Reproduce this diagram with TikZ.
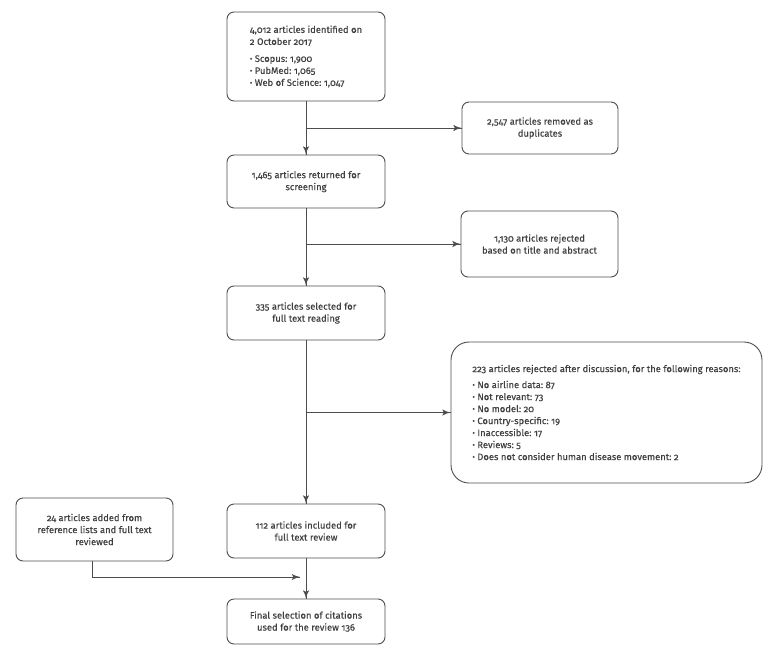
\documentclass[tikz,border=0pt]{standalone}
\usepackage{fontspec}
\setmainfont{Fira Sans}[Numbers=OldStyle, UprightFeatures={FakeBold=0.25}]
\usepackage{tikz}
\usetikzlibrary{arrows}
\usetikzlibrary{decorations.markings}
\usetikzlibrary{positioning}
\frenchspacing
\definecolor{linegray}{HTML}{4D4D4D}
\definecolor{textgray}{HTML}{404040}
\newcommand{\bul}{\raisebox{0.6pt}{\fontsize{7.5}{7.5}\selectfont\textbullet}\ }
\tikzset{box/.style = {draw=linegray, line width=0.9pt, rounded corners=7pt,
                       text=textgray, align=center, inner sep=0pt,
                       font=\fontsize{9.4}{12}\selectfont}}
\tikzset{listbox/.style = {box, align=left}}
\tikzset{flow/.style = {draw=linegray, line width=0.9pt,
                        decoration={markings,
                                    mark=at position 1 with {\arrow[scale=1.5]{latex'}}},
                        postaction={decorate}}}

\begin{document}
\begin{tikzpicture}[x=1pt, y=-1pt]
    \useasboundingbox (0, 0) rectangle (774, 656);
    % main column
    \node [listbox, minimum width=158pt, minimum height=89pt] (ident) at (306, 56.5)
        {4,012 articles identified on\\ 2 October 2017\\[5pt]
         \bul Scopus: 1,900\\ \bul PubMed: 1,065\\ \bul Web of Science: 1,047};
    \node [box, minimum width=158pt, minimum height=53pt] (screen) at (306, 181.5)
        {1,465 articles returned for\\ screening};
    \node [box, minimum width=158pt, minimum height=54pt] (fulltext) at (306, 313)
        {335 articles selected for\\ full text reading};
    \node [box, minimum width=158pt, minimum height=54pt] (included) at (306, 531)
        {112 articles included for\\ full text review};
    \node [box, minimum width=158pt, minimum height=45pt] (final) at (306, 621.5)
        {Final selection of citations\\ used for the review 136};
    % side boxes
    \node [box, minimum width=156pt, minimum height=52pt] (dup) at (540, 128)
        {2,547 articles removed as\\ duplicates};
    \node [box, minimum width=157pt, minimum height=66pt] (title) at (539.5, 244)
        {1,130 articles rejected\\ based on title and abstract};
    \node [listbox, rounded corners=18pt, minimum width=311pt,
           minimum height=141pt] (reasons) at (606.5, 412.5)
        {223 articles rejected after discussion, for the following reasons:\\[4pt]
         \bul No airline data: 87\\ \bul Not relevant: 73\\ \bul No model: 20\\
         \bul Country-specific: 19\\ \bul Inaccessible: 17\\ \bul Reviews: 5\\
         \bul Does not consider human disease movement: 2};
    \node [box, minimum width=157pt, minimum height=63pt] (added) at (94.5, 529.5)
        {24 articles added from\\ reference lists and full text\\ reviewed};
    \coordinate (join) at (300, 577);

    \draw [flow] (ident.south) -- (screen.north);
    \draw [flow] (ident.south |- dup.west) -- (dup.west);
    \draw [flow] (screen.south) -- (fulltext.north);
    \draw [flow] (screen.south |- title.west) -- (title.west);
    \draw [flow] (fulltext.south) -- (included.north);
    \draw [flow] (fulltext.south |- reasons.west) -- (reasons.west);
    \draw [flow] (included.south) -- (final.north);
    \draw [flow] ([xshift=-2pt]added.south) |- (join);
\end{tikzpicture}
\end{document}
